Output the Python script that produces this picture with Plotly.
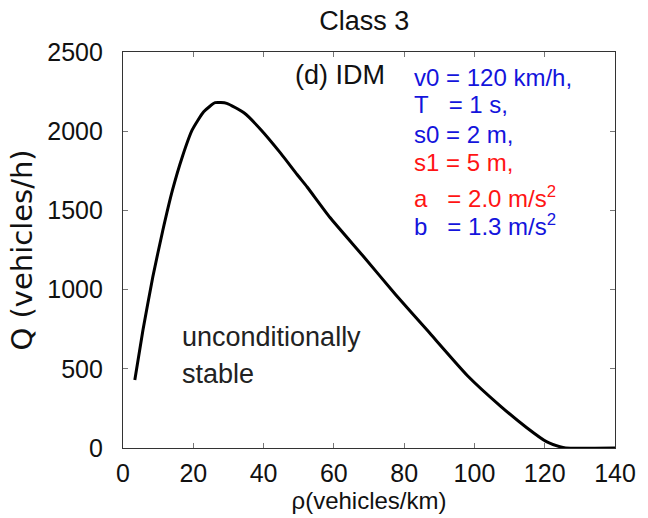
import plotly.graph_objects as go

rho = [3.36, 5.68, 8.49, 11.29, 14.09, 16.89, 19.69, 22.96, 26.24, 29.5, 34.6, 39.3, 44.9,
       49.6, 52.4, 58.9, 68.2, 77.6, 86.9, 98.1, 107.4, 114.9, 120.5, 124.3, 126.0, 140.0]
Q = [429, 745, 1081, 1370, 1629, 1839, 2008, 2123, 2180, 2176, 2113, 2008, 1860,
     1725, 1648, 1455, 1215, 968, 735, 455, 265, 128, 40, 8, 0, 0]

x_ticks = [0, 20, 40, 60, 80, 100, 120, 140]
y_ticks = [0, 500, 1000, 1500, 2000, 2500]

params = [
    ("v0\u00a0= 120 km/h,", "#1414dc"),
    ("T\u00a0\u00a0\u00a0= 1 s,", "#1414dc"),
    ("s0 = 2 m,", "#1414dc"),
    ("s1 = 5 m,", "#ff1414"),
    ("a\u00a0\u00a0\u00a0= 2.0 m/s<sup>2</sup>", "#ff1414"),
    ("b\u00a0\u00a0\u00a0= 1.3 m/s<sup>2</sup>", "#1414dc"),
]
param_y = [2340, 2168, 1978, 1800, 1582, 1405]

FONT = "Liberation Sans, Arial, Helvetica, sans-serif"

fig = go.Figure()
fig.add_trace(go.Scatter(x=rho, y=Q, mode="lines",
                         line=dict(color="black", width=3, shape="spline", smoothing=0.5),
                         showlegend=False, hoverinfo="skip"))

for (txt, col), yy in zip(params, param_y):
    fig.add_annotation(x=82.2, y=yy, xref="x", yref="y", text=txt, showarrow=False,
                       xanchor="left", yanchor="middle", font=dict(family=FONT, size=24, color=col))

fig.add_annotation(x=48.4, y=2355, xref="x", yref="y", text="(d) IDM", showarrow=False,
                   xanchor="left", yanchor="middle", font=dict(family=FONT, size=27, color="#111"))
fig.add_annotation(x=16.3, y=700, xref="x", yref="y", text="unconditionally", showarrow=False,
                   xanchor="left", yanchor="middle", font=dict(family=FONT, size=27, color="#222"))
fig.add_annotation(x=16.3, y=468, xref="x", yref="y", text="stable", showarrow=False,
                   xanchor="left", yanchor="middle", font=dict(family=FONT, size=27, color="#222"))

axis_common = dict(showline=True, linecolor="#333", linewidth=1.2, mirror="ticks", ticks="inside",
                   ticklen=5, tickcolor="#777", showgrid=False, zeroline=False,
                   tickfont=dict(family=FONT, size=25, color="#111"))

fig.update_layout(
    width=648, height=518,
    margin=dict(l=123, r=25, t=52, b=70),
    paper_bgcolor="white", plot_bgcolor="white",
    title=dict(text="Class 3", x=0.562, xanchor="center", y=0.960, yanchor="middle",
               font=dict(family=FONT, size=27, color="#111")),
    xaxis=dict(range=[0, 140], tickvals=x_ticks, ticktext=[str(v) for v in x_ticks],
               title=dict(text="\u03c1(vehicles/km)", font=dict(family=FONT, size=24, color="#111"), standoff=0),
               ticklabelstandoff=3, **axis_common),
    yaxis=dict(range=[0, 2500], tickvals=y_ticks, ticktext=[str(v) for v in y_ticks],
               title=dict(text="Q (vehicles/h)", font=dict(family="DejaVu Sans, sans-serif", size=29, color="#111"),
                          standoff=6),
               ticklabelstandoff=14, **axis_common),
)

fig.write_html("out.html")
